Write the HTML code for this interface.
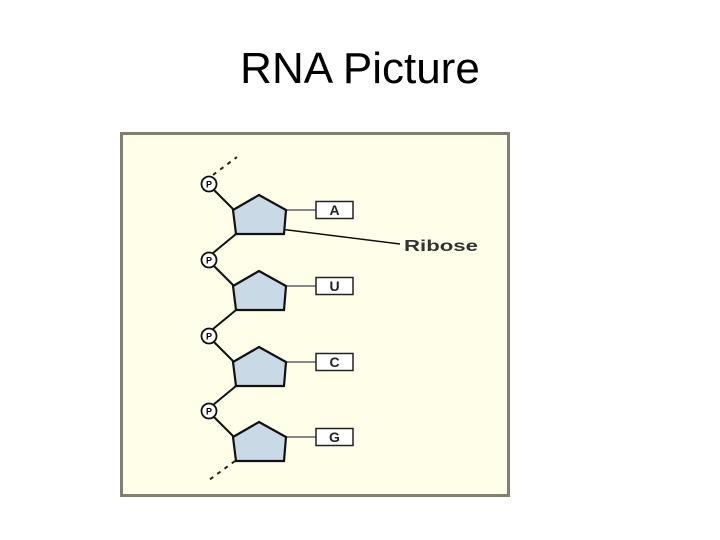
<!DOCTYPE html>
<html><head><style>
body{margin:0;width:720px;height:540px;background:#fff;overflow:hidden;position:relative;font-family:"Liberation Sans",sans-serif}
.t{position:absolute;top:44px;left:0;width:720px;text-align:center;font-size:44px;color:#000}
</style></head><body>
<div class="t">RNA Picture</div>
<svg width="720" height="540" style="position:absolute;left:0;top:0">
<rect x="121.5" y="133.5" width="387" height="362" fill="#fffee9" stroke="#808070" stroke-width="3"/>
<line x1="213" y1="175" x2="237" y2="157" stroke="#222" stroke-width="2" stroke-dasharray="4,5"/>
<line x1="235" y1="461" x2="209" y2="480" stroke="#222" stroke-width="2" stroke-dasharray="4,5"/>
<line x1="280" y1="229" x2="400" y2="244" stroke="#111" stroke-width="1.6"/>
<text x="404" y="251" font-size="16" font-weight="bold" fill="#333" textLength="74" lengthAdjust="spacingAndGlyphs">Ribose</text>
<g id="u">
<line x1="214" y1="190" x2="234" y2="210" stroke="#111" stroke-width="2"/>
<line x1="236" y1="234" x2="213" y2="253" stroke="#111" stroke-width="2"/>
<line x1="286" y1="210" x2="316" y2="210" stroke="#888" stroke-width="2"/>
<polygon points="259,195 286,210 284,234 236,234 233,210" fill="#c9d9e6" stroke="#111" stroke-width="2.2"/>
<circle cx="209" cy="184" r="7.5" fill="#fff" stroke="#111" stroke-width="1.8"/>
<text x="209" y="187.5" font-size="9" font-weight="bold" text-anchor="middle">P</text>
<rect x="316" y="201.5" width="37" height="17" fill="#fff" stroke="#222" stroke-width="1.5"/>
</g>
<use href="#u" y="76"/><use href="#u" y="152"/>
<g transform="translate(0,227)">
<line x1="214" y1="190" x2="234" y2="210" stroke="#111" stroke-width="2"/>
<line x1="286" y1="210" x2="316" y2="210" stroke="#888" stroke-width="2"/>
<polygon points="259,195 286,210 284,234 236,234 233,210" fill="#c9d9e6" stroke="#111" stroke-width="2.2"/>
<circle cx="209" cy="184" r="7.5" fill="#fff" stroke="#111" stroke-width="1.8"/>
<text x="209" y="187.5" font-size="9" font-weight="bold" text-anchor="middle">P</text>
<rect x="316" y="201.5" width="37" height="17" fill="#fff" stroke="#222" stroke-width="1.5"/>
</g>
<g font-size="14" font-weight="bold" text-anchor="middle" fill="#222">
<text x="334.5" y="215">A</text>
<text x="334.5" y="291">U</text>
<text x="334.5" y="367">C</text>
<text x="334.5" y="442">G</text>
</g>
</svg>
</body></html>
